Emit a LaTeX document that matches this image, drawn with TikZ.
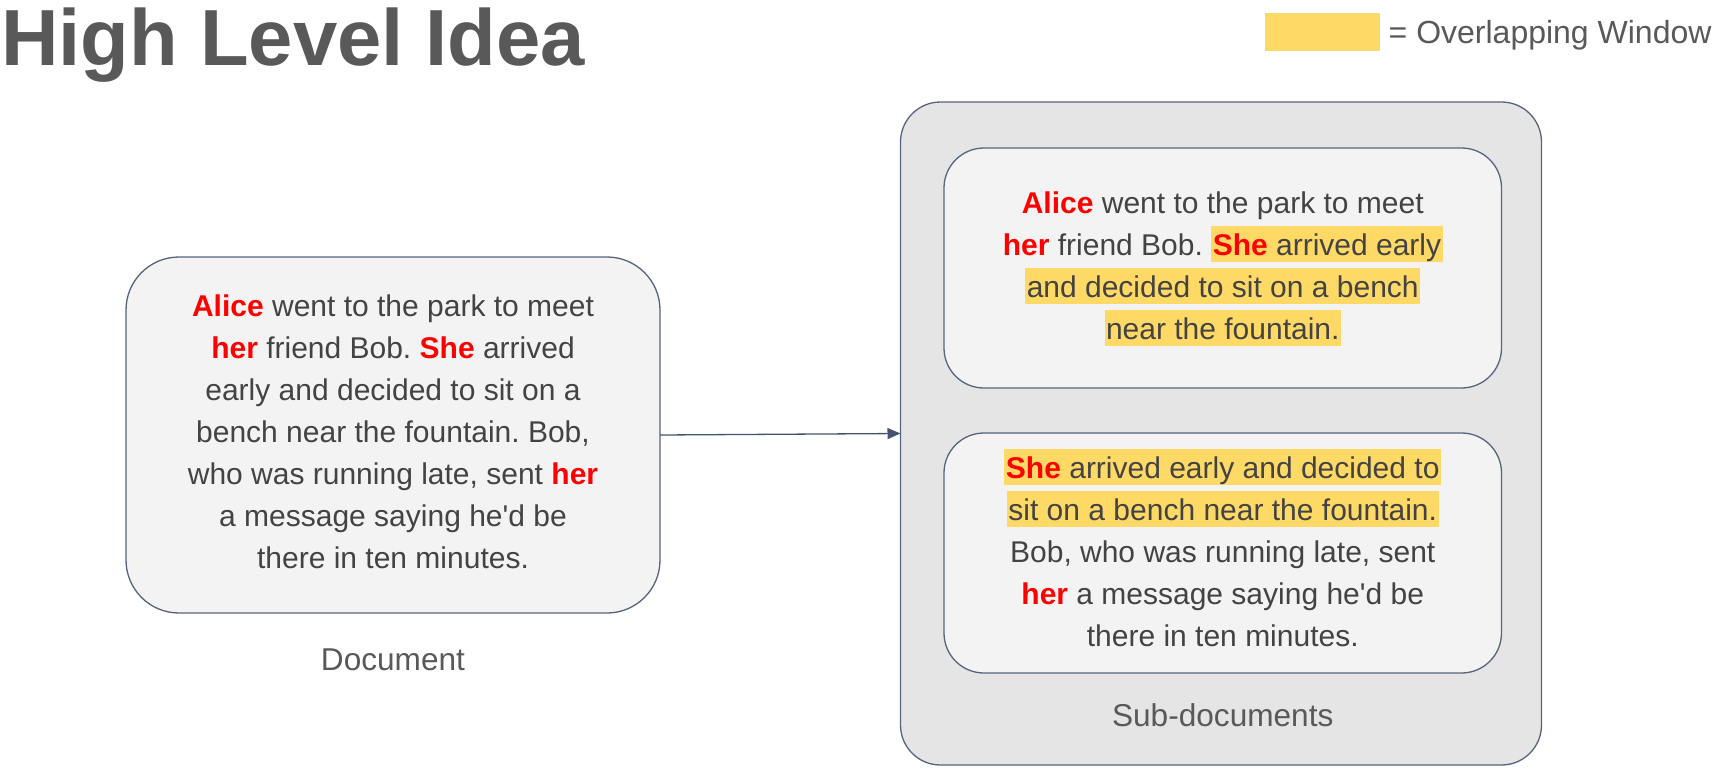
\documentclass[tikz,border=0pt]{standalone}
\usepackage{fontspec}
\setmainfont{Liberation Sans}[Ligatures=TeXReset]
\usetikzlibrary{arrows.meta}
\frenchspacing
\definecolor{hlyellow}{HTML}{FFD966}
\definecolor{txtgray}{HTML}{434343}
\definecolor{labgray}{HTML}{595959}
\definecolor{edgec}{HTML}{56647E}
\definecolor{arrowc}{HTML}{44546F}
\definecolor{boxfill}{HTML}{F3F3F3}
\definecolor{outerfill}{HTML}{E5E5E5}
\definecolor{kwred}{HTML}{FF0000}
\newcommand\kwd[1]{\textcolor{kwred}{\bfseries #1}}
\newcommand\hlbox[1]{{\setlength{\fboxsep}{0pt}\colorbox{hlyellow}{\rule[-7pt]{0pt}{36pt}\hspace{1.5pt}#1\hspace{1.5pt}}}}
\begin{document}
\begin{tikzpicture}[x=1pt,y=-1pt,
  card/.style={draw=edgec, line width=1.3pt, fill=boxfill, inner sep=0pt, outer sep=0pt},
  txtline/.style={anchor=base, inner sep=0pt, text=txtgray, font=\fontsize{30pt}{42pt}\selectfont},
  caption/.style={anchor=base, inner sep=0pt, text=labgray, font=\fontsize{31.6pt}{36pt}\selectfont}]
\useasboundingbox (0,0) rectangle (1722,774);

% title and legend
\node[anchor=base west, inner sep=0pt, text=labgray, font=\fontsize{79.6pt}{90pt}\selectfont\bfseries] (title) at (1,65) {High Level Idea};
\node[fill=hlyellow, minimum width=115pt, minimum height=38pt, inner sep=0pt, anchor=north west] (legendbox) at (1265,13) {};
\node[anchor=base west, inner sep=0pt, text=labgray, font=\fontsize{32pt}{36pt}\selectfont] (legendtext) at (1388.5,43) {= Overlapping Window};

% boxes
\node[card, rounded corners=53pt, minimum width=534pt, minimum height=356pt] (doc) at (393,435) {};
\node[card, fill=outerfill, rounded corners=40pt, minimum width=641pt, minimum height=663pt] (subs) at (1221,433.5) {};
\node[card, rounded corners=40pt, minimum width=557.5pt, minimum height=240pt] (sub1) at (1222.75,268) {};
\node[card, rounded corners=40pt, minimum width=557.5pt, minimum height=240pt] (sub2) at (1222.75,553) {};

\draw[arrowc, line width=1.3pt, -{Triangle[length=13pt,width=11pt]}] (doc.east) -- (subs.west);

% document text
\node[txtline] (d1) at (393,316) {\kwd{Alice} went to the park to meet};
\node[txtline] (d2) at (393,358) {\kwd{her} friend Bob. \kwd{She} arrived};
\node[txtline] (d3) at (393,400) {early and decided to sit on a};
\node[txtline] (d4) at (393,442) {bench near the fountain. Bob,};
\node[txtline] (d5) at (393,484) {who was running late, sent \kwd{her}};
\node[txtline] (d6) at (393,526) {a message saying he'd be};
\node[txtline] (d7) at (393,568) {there in ten minutes.};

% sub-document 1
\node[txtline] (a1) at (1222.75,213) {\kwd{Alice} went to the park to meet};
\node[txtline] (a2) at (1222.75,255) {\kwd{her} friend Bob. \hlbox{\kwd{She} arrived early}};
\node[txtline] (a3) at (1222.75,297) {\hlbox{and decided to sit on a bench}};
\node[txtline] (a4) at (1222.75,339) {\hlbox{near the fountain.}};

% sub-document 2
\node[txtline] (b1) at (1222.75,478) {\hlbox{\kwd{She} arrived early and decided to}};
\node[txtline] (b2) at (1222.75,520) {\hlbox{sit on a bench near the fountain.}};
\node[txtline] (b3) at (1222.75,562) {Bob, who was running late, sent};
\node[txtline] (b4) at (1222.75,604) {\kwd{her} a message saying he'd be};
\node[txtline] (b5) at (1222.75,646) {there in ten minutes.};

% captions
\node[caption] (doclabel) at (393,670) {Document};
\node[caption] (subslabel) at (1222.75,726.7) {Sub-documents};
\end{tikzpicture}
\end{document}
